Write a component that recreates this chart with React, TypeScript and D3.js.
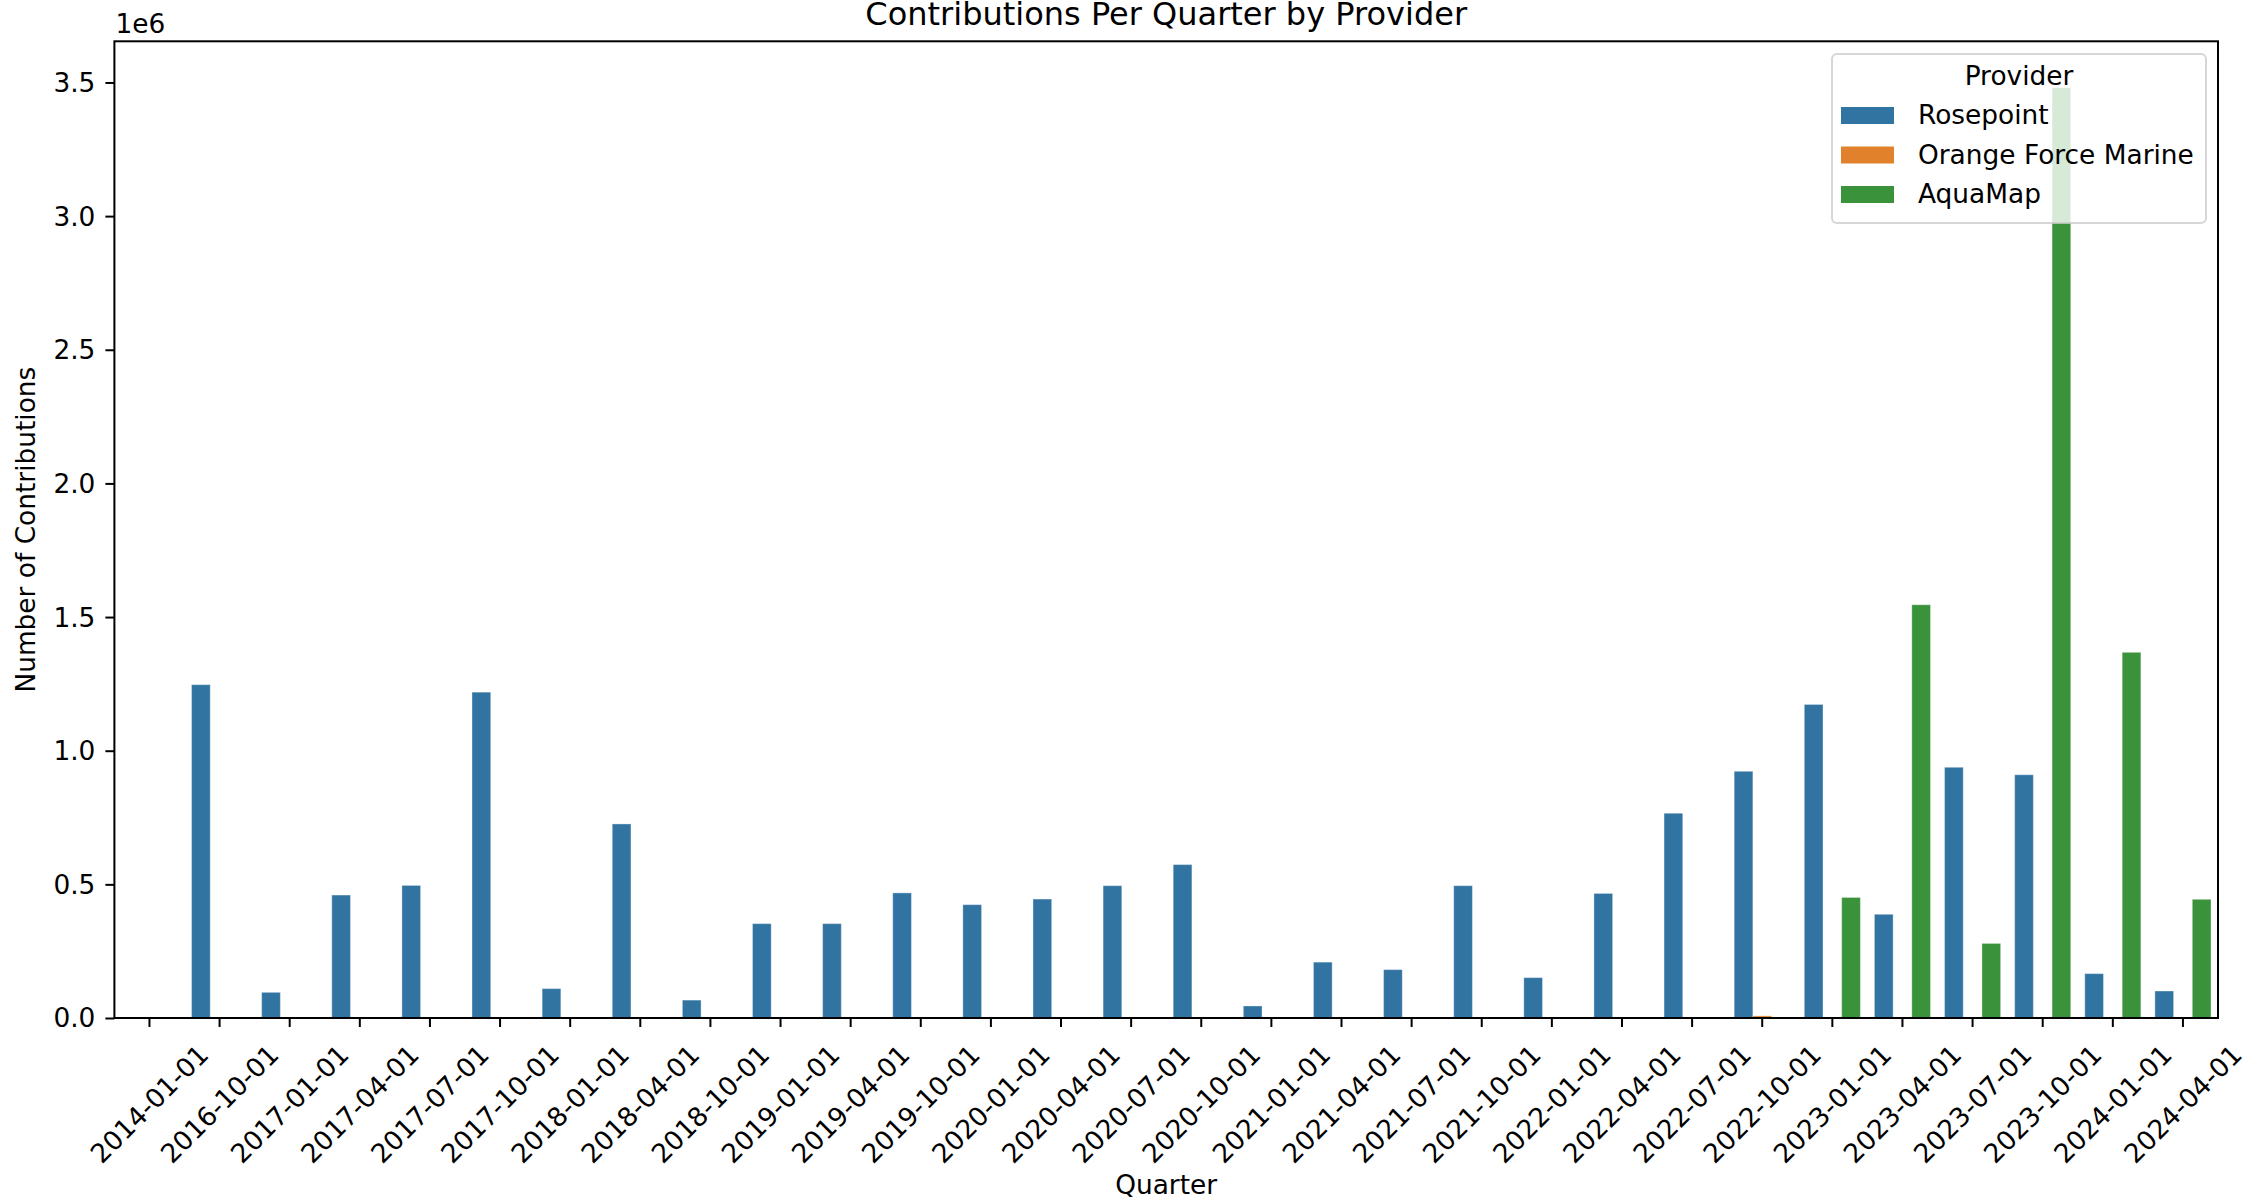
import { useEffect, useRef } from "react";
import * as d3 from "d3";

// quarters as they appear on the x axis
const quarters = [
  "2014-01-01", "2016-10-01", "2017-01-01", "2017-04-01", "2017-07-01",
  "2017-10-01", "2018-01-01", "2018-04-01", "2018-10-01", "2019-01-01",
  "2019-04-01", "2019-10-01", "2020-01-01", "2020-04-01", "2020-07-01",
  "2020-10-01", "2021-01-01", "2021-04-01", "2021-07-01", "2021-10-01",
  "2022-01-01", "2022-04-01", "2022-07-01", "2022-10-01", "2023-01-01",
  "2023-04-01", "2023-07-01", "2023-10-01", "2024-01-01", "2024-04-01",
];

const providers = ["Rosepoint", "Orange Force Marine", "AquaMap"];

// contributions per quarter
const rosepoint = [
  150, 1247000, 96000, 460000, 496000,
  1219000, 110000, 726000, 67000, 353000,
  353000, 468000, 424000, 445000, 495000,
  574000, 45000, 209000, 181000, 495000,
  151000, 466000, 766000, 923000, 1173000,
  388000, 938000, 910000, 166000, 101000,
];
const orangeForceMarine = [
  0, 0, 0, 0, 0, 0, 0, 0, 0, 0,
  0, 0, 0, 0, 0, 0, 0, 0, 0, 0,
  0, 0, 0, 8000, 0, 0, 0, 0, 0, 0,
];
const aquaMap = [
  0, 0, 0, 0, 0, 0, 0, 0, 0, 0,
  0, 0, 0, 0, 0, 0, 0, 0, 0, 0,
  0, 0, 0, 0, 451000, 1546000, 279000, 3480000, 1368000, 444000,
];

const yTicks = [0, 0.5e6, 1e6, 1.5e6, 2e6, 2.5e6, 3e6, 3.5e6];

const colors: Record<string, string> = {
  Rosepoint: "#3274a1",
  "Orange Force Marine": "#e1812c",
  AquaMap: "#3a923a",
};

const W = 2243;
const H = 1201;
const FONT = "DejaVu Sans, sans-serif";
const FS = 26.4; // 10pt
const TITLE_FS = 32;

export default function App() {
  const ref = useRef<SVGSVGElement | null>(null);

  useEffect(() => {
    document.body.style.margin = "0";
    if (!ref.current) return;

    const series: Record<string, number[]> = {
      Rosepoint: rosepoint,
      "Orange Force Marine": orangeForceMarine,
      AquaMap: aquaMap,
    };
    const rows = quarters.flatMap((q, i) =>
      providers.map((p) => ({ quarter: q, provider: p, value: series[p][i] }))
    );

    const left = 114.4;
    const right = 2218;
    const top = 41.3;
    const bottom = 1018;

    const root = d3.select(ref.current);
    root.selectAll("*").remove();

    const x = d3
      .scaleBand<string>()
      .domain(quarters)
      .range([left, right])
      .paddingInner(0.2)
      .paddingOuter(0.1);
    const xHue = d3
      .scaleBand<string>()
      .domain(providers)
      .range([0, x.bandwidth()]);

    const maxVal = d3.max(rows, (d) => d.value) ?? 1;
    const y = d3
      .scaleLinear()
      .domain([0, maxVal * 1.05])
      .range([bottom, top]);

    // bars
    root
      .append("g")
      .selectAll("rect")
      .data(rows.filter((d) => d.value > 0))
      .join("rect")
      .attr("x", (d) => x(d.quarter)! + xHue(d.provider)!)
      .attr("width", xHue.bandwidth())
      .attr("y", (d) => y(d.value))
      .attr("height", (d) => bottom - y(d.value))
      .attr("fill", (d) => colors[d.provider])
      .attr("stroke", "#ffffff")
      .attr("stroke-opacity", 0.35)
      .attr("stroke-width", 1);

    // y axis
    const yAxis = d3
      .axisLeft(y)
      .tickValues(yTicks)
      .tickSize(9)
      .tickPadding(10)
      .tickFormat((d) => d3.format(".1f")(+d / 1e6));
    const gy = root
      .append("g")
      .attr("transform", `translate(${left},0)`)
      .call(yAxis);
    gy.select(".domain").remove();
    gy.selectAll("line").attr("stroke", "#000").attr("stroke-width", 2);
    gy.selectAll("text")
      .attr("font-family", FONT)
      .attr("font-size", FS)
      .attr("fill", "#000")
      .attr("dy", "0.34em");

    // x axis
    const xAxis = d3.axisBottom(x).tickSize(9).tickFormat(() => "");
    const gx = root
      .append("g")
      .attr("transform", `translate(0,${bottom})`)
      .call(xAxis);
    gx.select(".domain").remove();
    gx.selectAll("line").attr("stroke", "#000").attr("stroke-width", 2);

    // rotated tick labels, centred under each tick
    root
      .append("g")
      .selectAll("text")
      .data(quarters)
      .join("text")
      .attr("transform", (d) => {
        const cx = x(d)! + x.bandwidth() / 2;
        return `translate(${cx},${bottom + 86}) rotate(-45)`;
      })
      .attr("text-anchor", "middle")
      .attr("dy", "0.35em")
      .attr("font-family", FONT)
      .attr("font-size", FS)
      .attr("fill", "#000")
      .text((d) => d);

    // frame
    root
      .append("rect")
      .attr("x", left)
      .attr("y", top)
      .attr("width", right - left)
      .attr("height", bottom - top)
      .attr("fill", "none")
      .attr("stroke", "#000")
      .attr("stroke-width", 2);

    // title, labels, offset text
    root
      .append("text")
      .attr("x", (left + right) / 2)
      .attr("y", 25)
      .attr("text-anchor", "middle")
      .attr("font-family", FONT)
      .attr("font-size", TITLE_FS)
      .text("Contributions Per Quarter by Provider");
    root
      .append("text")
      .attr("x", left + 1)
      .attr("y", 33)
      .attr("font-family", FONT)
      .attr("font-size", FS)
      .text("1e6");
    root
      .append("text")
      .attr("transform", `translate(35,${(top + bottom) / 2}) rotate(-90)`)
      .attr("text-anchor", "middle")
      .attr("font-family", FONT)
      .attr("font-size", FS)
      .text("Number of Contributions");
    root
      .append("text")
      .attr("x", (left + right) / 2)
      .attr("y", 1194)
      .attr("text-anchor", "middle")
      .attr("font-family", FONT)
      .attr("font-size", FS)
      .text("Quarter");

    // legend
    const lg = root.append("g");
    lg.append("rect")
      .attr("x", 1832)
      .attr("y", 54)
      .attr("width", 374)
      .attr("height", 169)
      .attr("rx", 5)
      .attr("fill", "#fff")
      .attr("fill-opacity", 0.8)
      .attr("stroke", "#cccccc")
      .attr("stroke-opacity", 0.8)
      .attr("stroke-width", 2);
    lg.append("text")
      .attr("x", 2019)
      .attr("y", 85)
      .attr("text-anchor", "middle")
      .attr("font-family", FONT)
      .attr("font-size", FS)
      .text("Provider");
    const items = lg
      .selectAll("g.item")
      .data(providers)
      .join("g")
      .attr("class", "item")
      .attr("transform", (_, i) => `translate(0,${124 + i * 39.5})`);
    items
      .append("rect")
      .attr("x", 1841)
      .attr("y", -17)
      .attr("width", 53)
      .attr("height", 17)
      .attr("fill", (d) => colors[d]);
    items
      .append("text")
      .attr("x", 1918)
      .attr("y", 0)
      .attr("font-family", FONT)
      .attr("font-size", FS)
      .text((d) => d);
  }, []);

  return (
    <svg
      ref={ref}
      width={W}
      height={H}
      style={{ display: "block", background: "#fff" }}
    />
  );
}
